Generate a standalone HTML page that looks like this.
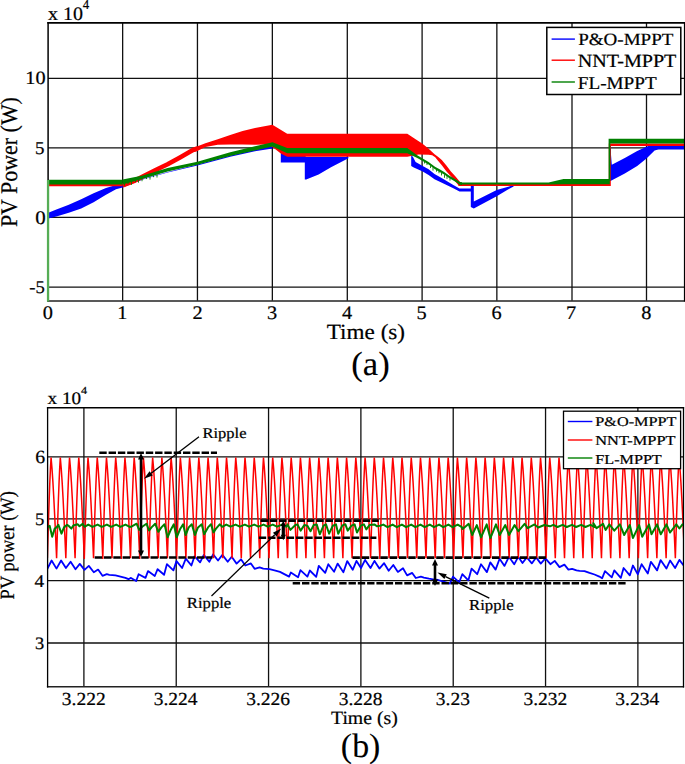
<!DOCTYPE html>
<html><head><meta charset="utf-8"><style>
html,body{margin:0;padding:0;background:#fff;}
body{width:685px;height:764px;overflow:hidden;}
svg{display:block;}
</style></head><body>
<svg width="685" height="764" viewBox="0 0 685 764">
<rect x="48.1" y="22.6" width="636.2" height="278.2" fill="#fff"/>
<line x1="122.65" y1="22.6" x2="122.65" y2="300.8" stroke="#111" stroke-width="1.3" />
<line x1="197.45" y1="22.6" x2="197.45" y2="300.8" stroke="#111" stroke-width="1.3" />
<line x1="272.35" y1="22.6" x2="272.35" y2="300.8" stroke="#111" stroke-width="1.3" />
<line x1="347.3" y1="22.6" x2="347.3" y2="300.8" stroke="#111" stroke-width="1.3" />
<line x1="422.1" y1="22.6" x2="422.1" y2="300.8" stroke="#111" stroke-width="1.3" />
<line x1="496.85" y1="22.6" x2="496.85" y2="300.8" stroke="#111" stroke-width="1.3" />
<line x1="572" y1="22.6" x2="572" y2="300.8" stroke="#111" stroke-width="1.3" />
<line x1="646.5" y1="22.6" x2="646.5" y2="300.8" stroke="#111" stroke-width="1.3" />
<line x1="48.1" y1="78.3" x2="684.3" y2="78.3" stroke="#111" stroke-width="1.3" />
<line x1="48.1" y1="147.8" x2="684.3" y2="147.8" stroke="#111" stroke-width="1.3" />
<line x1="48.1" y1="217.3" x2="684.3" y2="217.3" stroke="#111" stroke-width="1.3" />
<line x1="48.1" y1="287.05" x2="684.3" y2="287.05" stroke="#111" stroke-width="1.3" />
<svg x="48.1" y="22.6" width="636.2" height="278.2" viewBox="48.1 22.6 636.2 278.2" overflow="hidden">
<polygon points="48.3,212.8 56.4,209.5 68.8,204.7 81.2,199.2 93.6,193.3 106,188 116,184.9 122.6,184.5 122.6,187.5 116,189.2 106,194.8 93.6,202.3 81.2,208.5 68.8,212.8 56.4,216.5 48.3,218.6" fill="#0000ff" />
<polygon points="122.6,184.5 142.8,179 167.6,172 197.4,164.5 230.2,155.5 255,149.8 272.5,146 272.5,148.6 255,151.3 230.2,156.8 197.4,165.6 167.6,172.4 142.8,179.6 122.6,187.5" fill="#0000ff" />
<polygon points="280.8,153 305.5,153 305.5,156.5 306.2,157 348.4,157 348.4,158.3 331,167.2 318.6,174.6 306.2,179.6 304.8,179.6 304.8,162.4 280.8,162.6" fill="#0000ff" />
<polygon points="411.2,155 413,157 415.6,162.1 422.7,165.9 428.6,169.2 434.5,174 440.3,177.2 445,179.9 453.3,185.1 459.5,188.4 471.5,188.4 471.5,191.6 459.5,191.6 453.3,188.3 445,184.3 440.3,182 434.5,179.3 428.6,175 422.7,171.5 413.8,167.6 411.2,166" fill="#0000ff" />
<polygon points="470.8,186 473.8,186 473.8,201.5 496.7,189.9 513.6,185.2 513.6,186.5 508.4,189.3 496.7,196.3 473.8,208.5 470.8,207" fill="#0000ff" />
<polygon points="609.3,145 611,145 611,154.8 611.8,164.7 624.8,157.9 637.2,151.1 646.5,146.8 648.4,145.9 684.3,145.9 684.3,149.6 658.3,149.6 654.6,150.5 646.5,158.5 637.2,166 624.8,173.4 610.5,180.9 609.3,180.9" fill="#0000ff" />
<polygon points="48.3,183.8 122.6,183.8 122.6,186.2 48.3,186.2" fill="#ff0000" />
<polyline points="122.7,185.3 135,180.5 142.8,176.5 155.2,170.2 167.6,164.2 180,157.4 192.5,150.2 197.4,148.5" fill="none" stroke="#ff0000" stroke-width="4.6" stroke-linejoin="round" />
<polygon points="193,147.9 205.4,143.3 217.8,139.2 230.2,134.9 242.6,131.1 255,128 272.4,124.7 287.2,133.8 407.3,133.8 416,139.4 422.2,143.6 428.4,148.6 434.6,154.2 438.3,157.1 441.8,160 446.4,165.5 450.9,171.5 455.5,176.5 460.1,182 461.4,184.3 459,186 457.6,184.3 455.7,182 451.1,176.5 446.5,171.5 442,165.5 437.4,160 435.2,157.2 432.2,155.3 428.6,154.7 418.5,154.6 407.3,156.7 287.2,156.7 280.8,153.5 272.5,147 265,144.5 255,144.8 242.6,144.4 230.2,144.4 217.8,144.8 205.4,147 197.3,151 193,152.2" fill="#ff0000" />
<polygon points="458.6,183.4 609.8,183.4 609.8,186 458.6,186" fill="#ff0000" />
<polygon points="608.8,143.4 684.3,143.4 684.3,146 610.8,146 610.8,186 608.8,186" fill="#ff0000" />
<polygon points="48.3,179.7 122.6,179.7 122.6,184.6 48.3,184.6" fill="#008000" />
<polygon points="122.6,179.6 142.8,175.4 167.6,167.9 197.4,161.7 230.2,152.2 255,146.3 272.5,142.3 287.2,148 407.3,148 416.8,155.05 422.7,158.4 428.6,161.95 435,166.7 439.6,169.3 444.2,172 448.7,175.2 453.3,178 457.9,180.7 459.7,181.9 462,182.3 462,184.9 459.7,184.5 457.9,183.3 453.3,180.6 448.7,177.8 444.2,174.6 439.6,171.9 435,169.3 428.6,164.55 422.7,161 416.8,157.65 407.3,153.2 287.2,153.2 272.5,146.6 255,150.4 230.2,156 197.4,164.8 167.6,171.6 142.8,178.7 122.6,184.4" fill="#008000" />
<line x1="124.5" y1="182.11" x2="124.5" y2="185.64" stroke="#008000" stroke-width="0.9" />
<line x1="128" y1="181.2" x2="128" y2="184.18" stroke="#008000" stroke-width="0.9" />
<line x1="131.5" y1="180.29" x2="131.5" y2="184.87" stroke="#008000" stroke-width="0.9" />
<line x1="135.5" y1="179.25" x2="135.5" y2="181.98" stroke="#008000" stroke-width="0.9" />
<line x1="138.5" y1="178.47" x2="138.5" y2="182.68" stroke="#008000" stroke-width="0.9" />
<line x1="142" y1="177.56" x2="142" y2="181.23" stroke="#008000" stroke-width="0.9" />
<line x1="146.5" y1="176.39" x2="146.5" y2="179.07" stroke="#008000" stroke-width="0.9" />
<line x1="150" y1="175.48" x2="150" y2="179.6" stroke="#008000" stroke-width="0.9" />
<line x1="153.5" y1="174.57" x2="153.5" y2="177.19" stroke="#008000" stroke-width="0.9" />
<line x1="157" y1="173.66" x2="157" y2="177.54" stroke="#008000" stroke-width="0.9" />
<line x1="424.5" y1="161.58" x2="424.5" y2="163.51" stroke="#008000" stroke-width="0.9" />
<line x1="427" y1="163.09" x2="427" y2="165.05" stroke="#008000" stroke-width="0.9" />
<line x1="430.5" y1="165.46" x2="430.5" y2="168.02" stroke="#008000" stroke-width="0.9" />
<line x1="433" y1="167.32" x2="433" y2="170.6" stroke="#008000" stroke-width="0.9" />
<line x1="436.5" y1="169.65" x2="436.5" y2="171.67" stroke="#008000" stroke-width="0.9" />
<line x1="439" y1="171.06" x2="439" y2="173.26" stroke="#008000" stroke-width="0.9" />
<line x1="441.5" y1="172.52" x2="441.5" y2="175.44" stroke="#008000" stroke-width="0.9" />
<line x1="444.5" y1="174.31" x2="444.5" y2="177.82" stroke="#008000" stroke-width="0.9" />
<line x1="447" y1="176.09" x2="447" y2="178.93" stroke="#008000" stroke-width="0.9" />
<line x1="450" y1="178.09" x2="450" y2="180.61" stroke="#008000" stroke-width="0.9" />
<polygon points="458.6,182.5 548.6,182.5 563.5,178.9 609.8,178.9 609.8,184.3 563.5,184.3 548.6,184.4 458.6,184.4" fill="#008000" />
<polygon points="608.6,138.8 684.3,138.8 684.3,143.5 610.3,143.5 610.3,181 608.6,181" fill="#008000" />
</svg>
<line x1="47.3" y1="22.9" x2="685" y2="22.9" stroke="#000" stroke-width="1.8" />
<line x1="47.3" y1="300.9" x2="685" y2="300.9" stroke="#222" stroke-width="1.5" />
<line x1="48.1" y1="22" x2="48.1" y2="301.6" stroke="#000" stroke-width="1.5" />
<line x1="684.5" y1="22" x2="684.5" y2="301.6" stroke="#000" stroke-width="1.2" />
<line x1="48.05" y1="180" x2="48.05" y2="301.6" stroke="#55ad55" stroke-width="2.3" />
<rect x="546.8" y="27.4" width="134" height="67.1" fill="#fff" stroke="#000" stroke-width="1.5"/>
<line x1="551.6" y1="39.1" x2="574.9" y2="39.1" stroke="#0000ff" stroke-width="1.4" />
<line x1="551.6" y1="60.2" x2="574.9" y2="60.2" stroke="#ff0000" stroke-width="1.4" />
<line x1="551.6" y1="82" x2="574.9" y2="82" stroke="#008000" stroke-width="1.4" />
<rect x="47.6" y="407.6" width="635.8" height="279.3" fill="#fff"/>
<line x1="83.9" y1="407.6" x2="83.9" y2="686.9" stroke="#111" stroke-width="1.3" />
<line x1="176.23" y1="407.6" x2="176.23" y2="686.9" stroke="#111" stroke-width="1.3" />
<line x1="268.56" y1="407.6" x2="268.56" y2="686.9" stroke="#111" stroke-width="1.3" />
<line x1="360.89" y1="407.6" x2="360.89" y2="686.9" stroke="#111" stroke-width="1.3" />
<line x1="453.22" y1="407.6" x2="453.22" y2="686.9" stroke="#111" stroke-width="1.3" />
<line x1="545.55" y1="407.6" x2="545.55" y2="686.9" stroke="#111" stroke-width="1.3" />
<line x1="637.88" y1="407.6" x2="637.88" y2="686.9" stroke="#111" stroke-width="1.3" />
<line x1="47.6" y1="456.85" x2="683.4" y2="456.85" stroke="#111" stroke-width="1.3" />
<line x1="47.6" y1="518.95" x2="683.4" y2="518.95" stroke="#111" stroke-width="1.3" />
<line x1="47.6" y1="580.7" x2="683.4" y2="580.7" stroke="#111" stroke-width="1.3" />
<line x1="47.6" y1="643" x2="683.4" y2="643" stroke="#111" stroke-width="1.3" />
<svg x="47.6" y="407.6" width="635.8" height="279.3" viewBox="47.6 407.6 635.8 279.3" overflow="hidden">
<polyline points="44,566 47.5,568.6 51.6,560.5 56.5,568.6 61.1,560.5 65.9,568 70.6,561.8 75.5,569.2 79.8,563.9 84.5,569.9 88.8,565.9 93.8,572.3 98.1,569.6 102.5,575.8 106.8,574.2 109.3,574.8 115.5,575.4 120.5,576.7 125.4,577.9 128.5,579.2 131,577.9 136.2,581 138.6,574.2 145.5,577.9 148,571.1 154.8,576 157.6,569.2 164.1,574.8 166.9,564.2 173.4,570.4 176.5,561.1 182.1,568 185.8,558.6 191.4,565.5 194.5,556.2 200.1,562.4 203.8,554.9 209.3,561.8 213.1,554.3 218,560.5 222.4,554.9 227.7,561.8 231.7,556.8 236.6,563.6 241,559.3 245.3,565.5 250.9,563.4 254.6,568.8 259.6,567.3 263.3,568.6 269.5,569.2 274.5,570.4 280,571.9 289.1,576.6 290.8,572.5 298.1,577.2 300.4,570.2 307.4,576.6 309.8,570.5 316.2,576.9 318.8,565.8 325.2,572.9 328.3,564.2 334.1,571.7 337.6,563.6 343.4,572.3 347.2,561.1 352.7,569.8 356.5,560.9 361,568 365.1,559.9 370.5,568 374.5,560.9 379.4,568.6 384.1,563.2 388.7,570.8 393.3,565 397.9,571.9 403,568.3 407.1,575.4 412.2,572.9 415.8,578 420.9,576.7 423.9,577.7 429,578.7 433.1,579.3 438.2,580 443.4,581.6 449.9,583.6 453,576.7 459.2,582.3 462.3,574.2 468.3,580.4 471.6,568.6 477.2,574.2 481,564.3 486.9,572.1 490.3,562.4 495.6,569.6 499.6,558.7 504.5,565.9 508.9,556.8 514.2,564.3 518.2,556.8 522.5,563 526.8,557.4 531.8,563.4 536.1,557.4 540.8,563.6 545.4,558.4 550.4,564.2 554.7,560.9 559.5,567.1 564.4,564.6 568.4,569.6 572.1,568.8 576.5,570.4 579.6,570.8 584.5,571.1 589.5,572.9 594.5,574.5 599.4,576.6 602.1,578.3 605,571.1 611.8,577.3 614.3,570.4 620.8,577.9 623.6,568 629.8,575.4 632.9,565.5 637.8,574.2 641.6,564.2 647.8,573.5 650.9,561.8 657.1,570.4 660.6,560.1 666.4,568.6 670.1,560.5 675.1,568 679.4,559.9 684,566 688,560" fill="none" stroke="#0000ff" stroke-width="1.8" stroke-linejoin="round" />
<polyline points="47.37,558.2 47.98,537.26 48.6,517.12 49.22,498.52 49.83,482.11 50.45,468.36 51.07,457.6 51.99,468.36 52.91,482.11 53.83,498.52 54.76,517.12 55.68,537.26 56.6,558.2 56.6,558.2 57.22,537.26 57.83,517.12 58.45,498.52 59.07,482.11 59.68,468.36 60.3,457.6 61.22,468.36 62.15,482.11 63.07,498.52 63.99,517.12 64.91,537.26 65.84,558.2 65.84,558.2 66.45,537.26 67.07,517.12 67.69,498.52 68.3,482.11 68.92,468.36 69.54,457.6 70.46,468.36 71.38,482.11 72.3,498.52 73.23,517.12 74.15,537.26 75.07,558.2 75.07,558.2 75.69,537.26 76.3,517.12 76.92,498.52 77.54,482.11 78.15,468.36 78.77,457.6 79.69,468.36 80.61,482.11 81.54,498.52 82.46,517.12 83.38,537.26 84.3,558.2 84.31,558.2 84.92,537.26 85.54,517.12 86.16,498.52 86.77,482.11 87.39,468.36 88.01,457.6 88.93,468.36 89.85,482.11 90.77,498.52 91.7,517.12 92.62,537.26 93.54,558.2 93.54,558.2 94.16,537.26 94.77,517.12 95.39,498.52 96.01,482.11 96.62,468.36 97.24,457.6 98.16,468.36 99.08,482.11 100.01,498.52 100.93,517.12 101.85,537.26 102.77,558.2 102.78,558.2 103.39,537.26 104.01,517.12 104.62,498.52 105.24,482.11 105.86,468.36 106.48,457.6 107.4,468.36 108.32,482.11 109.24,498.52 110.17,517.12 111.09,537.26 112.01,558.2 112.01,558.2 112.63,537.26 113.24,517.12 113.86,498.52 114.48,482.11 115.09,468.36 115.71,457.6 116.63,468.36 117.55,482.11 118.48,498.52 119.4,517.12 120.32,537.26 121.24,558.2 121.25,558.2 121.86,537.26 122.48,517.12 123.09,498.52 123.71,482.11 124.33,468.36 124.95,457.6 125.87,468.36 126.79,482.11 127.71,498.52 128.64,517.12 129.56,537.26 130.48,558.2 130.48,558.2 131.1,537.26 131.71,517.12 132.33,498.52 132.95,482.11 133.56,468.36 134.18,457.6 135.1,468.36 136.02,482.11 136.95,498.52 137.87,517.12 138.79,537.26 139.71,558.2 139.72,558.2 140.33,537.26 140.95,517.12 141.56,498.52 142.18,482.11 142.8,468.36 143.41,457.6 144.34,468.36 145.26,482.11 146.18,498.52 147.1,517.12 148.03,537.26 148.95,558.2 148.95,558.2 149.57,537.26 150.18,517.12 150.8,498.52 151.42,482.11 152.03,468.36 152.65,457.6 153.57,468.36 154.49,482.11 155.42,498.52 156.34,517.12 157.26,537.26 158.19,558.2 158.19,558.2 158.8,537.26 159.42,517.12 160.03,498.52 160.65,482.11 161.27,468.36 161.88,457.6 162.81,468.36 163.73,482.11 164.65,498.52 165.58,517.12 166.5,537.26 167.42,558.2 167.42,558.2 168.04,537.26 168.65,517.12 169.27,498.52 169.89,482.11 170.5,468.36 171.12,457.6 172.04,468.36 172.96,482.11 173.89,498.52 174.81,517.12 175.73,537.26 176.65,558.2 176.66,558.2 177.27,537.26 177.89,517.12 178.5,498.52 179.12,482.11 179.74,468.36 180.35,457.6 181.28,468.36 182.2,482.11 183.12,498.52 184.04,517.12 184.97,537.26 185.89,558.2 185.89,558.2 186.51,537.26 187.12,517.12 187.74,498.52 188.36,482.11 188.97,468.36 189.59,457.6 190.51,468.36 191.43,482.11 192.36,498.52 193.28,517.12 194.2,537.26 195.12,558.2 195.12,558.2 195.74,537.26 196.36,517.12 196.97,498.52 197.59,482.11 198.21,468.36 198.82,457.6 199.75,468.36 200.67,482.11 201.59,498.52 202.51,517.12 203.44,537.26 204.36,558.2 204.36,558.2 204.98,537.26 205.59,517.12 206.21,498.52 206.83,482.11 207.44,468.36 208.06,457.6 208.98,468.36 209.9,482.11 210.83,498.52 211.75,517.12 212.67,537.26 213.59,558.2 213.59,558.2 214.21,537.26 214.83,517.12 215.44,498.52 216.06,482.11 216.68,468.36 217.29,457.6 218.22,468.36 219.14,482.11 220.06,498.52 220.98,517.12 221.91,537.26 222.83,558.2 222.83,558.2 223.45,537.26 224.06,517.12 224.68,498.52 225.3,482.11 225.91,468.36 226.53,457.6 227.45,468.36 228.37,482.11 229.3,498.52 230.22,517.12 231.14,537.26 232.06,558.2 232.06,558.2 232.68,537.26 233.3,517.12 233.91,498.52 234.53,482.11 235.15,468.36 235.76,457.6 236.69,468.36 237.61,482.11 238.53,498.52 239.45,517.12 240.38,537.26 241.3,558.2 241.3,558.2 241.92,537.26 242.53,517.12 243.15,498.52 243.77,482.11 244.38,468.36 245,457.6 245.92,468.36 246.84,482.11 247.77,498.52 248.69,517.12 249.61,537.26 250.53,558.2 250.53,558.2 251.15,537.26 251.77,517.12 252.38,498.52 253,482.11 253.62,468.36 254.23,457.6 255.16,468.36 256.08,482.11 257,498.52 257.92,517.12 258.85,537.26 259.77,558.2 259.77,558.2 260.39,537.26 261,517.12 261.62,498.52 262.24,482.11 262.85,468.36 263.47,457.6 264.39,468.36 265.31,482.11 266.24,498.52 267.16,517.12 268.08,537.26 269,558.2 269,558.2 269.62,537.26 270.24,517.12 270.86,498.52 271.47,482.11 272.09,468.36 272.7,457.6 273.63,468.36 274.55,482.11 275.47,498.52 276.39,517.12 277.32,537.26 278.24,558.2 278.24,558.2 278.86,537.26 279.47,517.12 280.09,498.52 280.71,482.11 281.32,468.36 281.94,457.6 282.86,468.36 283.79,482.11 284.71,498.52 285.63,517.12 286.55,537.26 287.48,558.2 287.48,558.2 288.09,537.26 288.71,517.12 289.33,498.52 289.94,482.11 290.56,468.36 291.18,457.6 292.1,468.36 293.02,482.11 293.94,498.52 294.87,517.12 295.79,537.26 296.71,558.2 296.71,558.2 297.33,537.26 297.94,517.12 298.56,498.52 299.18,482.11 299.79,468.36 300.41,457.6 301.33,468.36 302.25,482.11 303.18,498.52 304.1,517.12 305.02,537.26 305.94,558.2 305.94,558.2 306.56,537.26 307.18,517.12 307.79,498.52 308.41,482.11 309.03,468.36 309.64,457.6 310.57,468.36 311.49,482.11 312.41,498.52 313.33,517.12 314.26,537.26 315.18,558.2 315.18,558.2 315.8,537.26 316.41,517.12 317.03,498.52 317.65,482.11 318.26,468.36 318.88,457.6 319.8,468.36 320.73,482.11 321.65,498.52 322.57,517.12 323.49,537.26 324.42,558.2 324.42,558.2 325.03,537.26 325.65,517.12 326.26,498.52 326.88,482.11 327.5,468.36 328.12,457.6 329.04,468.36 329.96,482.11 330.88,498.52 331.81,517.12 332.73,537.26 333.65,558.2 333.65,558.2 334.27,537.26 334.88,517.12 335.5,498.52 336.12,482.11 336.73,468.36 337.35,457.6 338.27,468.36 339.19,482.11 340.12,498.52 341.04,517.12 341.96,537.26 342.88,558.2 342.88,558.2 343.5,537.26 344.12,517.12 344.74,498.52 345.35,482.11 345.97,468.36 346.58,457.6 347.51,468.36 348.43,482.11 349.35,498.52 350.27,517.12 351.2,537.26 352.12,558.2 352.12,558.2 352.74,537.26 353.35,517.12 353.97,498.52 354.59,482.11 355.2,468.36 355.82,457.6 356.74,468.36 357.67,482.11 358.59,498.52 359.51,517.12 360.43,537.26 361.36,558.2 361.36,558.2 361.97,537.26 362.59,517.12 363.21,498.52 363.82,482.11 364.44,468.36 365.06,457.6 365.98,468.36 366.9,482.11 367.82,498.52 368.75,517.12 369.67,537.26 370.59,558.2 370.59,558.2 371.21,537.26 371.82,517.12 372.44,498.52 373.06,482.11 373.67,468.36 374.29,457.6 375.21,468.36 376.14,482.11 377.06,498.52 377.98,517.12 378.9,537.26 379.83,558.2 379.82,558.2 380.44,537.26 381.06,517.12 381.67,498.52 382.29,482.11 382.91,468.36 383.52,457.6 384.45,468.36 385.37,482.11 386.29,498.52 387.21,517.12 388.14,537.26 389.06,558.2 389.06,558.2 389.68,537.26 390.29,517.12 390.91,498.52 391.53,482.11 392.14,468.36 392.76,457.6 393.68,468.36 394.61,482.11 395.53,498.52 396.45,517.12 397.37,537.26 398.3,558.2 398.3,558.2 398.91,537.26 399.53,517.12 400.14,498.52 400.76,482.11 401.38,468.36 402,457.6 402.92,468.36 403.84,482.11 404.76,498.52 405.69,517.12 406.61,537.26 407.53,558.2 407.53,558.2 408.15,537.26 408.76,517.12 409.38,498.52 410,482.11 410.61,468.36 411.23,457.6 412.15,468.36 413.07,482.11 414,498.52 414.92,517.12 415.84,537.26 416.76,558.2 416.76,558.2 417.38,537.26 418,517.12 418.62,498.52 419.23,482.11 419.85,468.36 420.46,457.6 421.39,468.36 422.31,482.11 423.23,498.52 424.15,517.12 425.08,537.26 426,558.2 426,558.2 426.62,537.26 427.23,517.12 427.85,498.52 428.47,482.11 429.08,468.36 429.7,457.6 430.62,468.36 431.55,482.11 432.47,498.52 433.39,517.12 434.31,537.26 435.24,558.2 435.24,558.2 435.85,537.26 436.47,517.12 437.09,498.52 437.7,482.11 438.32,468.36 438.94,457.6 439.86,468.36 440.78,482.11 441.7,498.52 442.62,517.12 443.55,537.26 444.47,558.2 444.47,558.2 445.09,537.26 445.7,517.12 446.32,498.52 446.94,482.11 447.55,468.36 448.17,457.6 449.09,468.36 450.02,482.11 450.94,498.52 451.86,517.12 452.78,537.26 453.71,558.2 453.7,558.2 454.32,537.26 454.94,517.12 455.55,498.52 456.17,482.11 456.79,468.36 457.4,457.6 458.33,468.36 459.25,482.11 460.17,498.52 461.09,517.12 462.02,537.26 462.94,558.2 462.94,558.2 463.56,537.26 464.17,517.12 464.79,498.52 465.41,482.11 466.02,468.36 466.64,457.6 467.56,468.36 468.49,482.11 469.41,498.52 470.33,517.12 471.25,537.26 472.18,558.2 472.18,558.2 472.79,537.26 473.41,517.12 474.02,498.52 474.64,482.11 475.26,468.36 475.88,457.6 476.8,468.36 477.72,482.11 478.64,498.52 479.56,517.12 480.49,537.26 481.41,558.2 481.41,558.2 482.03,537.26 482.64,517.12 483.26,498.52 483.88,482.11 484.49,468.36 485.11,457.6 486.03,468.36 486.95,482.11 487.88,498.52 488.8,517.12 489.72,537.26 490.64,558.2 490.64,558.2 491.26,537.26 491.88,517.12 492.5,498.52 493.11,482.11 493.73,468.36 494.34,457.6 495.27,468.36 496.19,482.11 497.11,498.52 498.03,517.12 498.96,537.26 499.88,558.2 499.88,558.2 500.5,537.26 501.11,517.12 501.73,498.52 502.35,482.11 502.96,468.36 503.58,457.6 504.5,468.36 505.43,482.11 506.35,498.52 507.27,517.12 508.19,537.26 509.12,558.2 509.12,558.2 509.73,537.26 510.35,517.12 510.97,498.52 511.58,482.11 512.2,468.36 512.82,457.6 513.74,468.36 514.66,482.11 515.58,498.52 516.5,517.12 517.43,537.26 518.35,558.2 518.35,558.2 518.97,537.26 519.58,517.12 520.2,498.52 520.82,482.11 521.43,468.36 522.05,457.6 522.97,468.36 523.9,482.11 524.82,498.52 525.74,517.12 526.66,537.26 527.59,558.2 527.58,558.2 528.2,537.26 528.82,517.12 529.43,498.52 530.05,482.11 530.67,468.36 531.28,457.6 532.21,468.36 533.13,482.11 534.05,498.52 534.97,517.12 535.9,537.26 536.82,558.2 536.82,558.2 537.44,537.26 538.05,517.12 538.67,498.52 539.29,482.11 539.9,468.36 540.52,457.6 541.44,468.36 542.37,482.11 543.29,498.52 544.21,517.12 545.13,537.26 546.05,558.2 546.05,558.2 546.67,537.26 547.29,517.12 547.9,498.52 548.52,482.11 549.14,468.36 549.75,457.6 550.68,468.36 551.6,482.11 552.52,498.52 553.44,517.12 554.37,537.26 555.29,558.2 555.29,558.2 555.91,537.26 556.52,517.12 557.14,498.52 557.76,482.11 558.37,468.36 558.99,457.6 559.91,468.36 560.84,482.11 561.76,498.52 562.68,517.12 563.6,537.26 564.52,558.2 564.52,558.2 565.14,537.26 565.76,517.12 566.38,498.52 566.99,482.11 567.61,468.36 568.23,457.6 569.15,468.36 570.07,482.11 570.99,498.52 571.91,517.12 572.84,537.26 573.76,558.2 573.76,558.2 574.38,537.26 574.99,517.12 575.61,498.52 576.23,482.11 576.84,468.36 577.46,457.6 578.38,468.36 579.31,482.11 580.23,498.52 581.15,517.12 582.07,537.26 583,558.2 583,558.2 583.61,537.26 584.23,517.12 584.85,498.52 585.46,482.11 586.08,468.36 586.7,457.6 587.62,468.36 588.54,482.11 589.46,498.52 590.38,517.12 591.31,537.26 592.23,558.2 592.23,558.2 592.85,537.26 593.46,517.12 594.08,498.52 594.7,482.11 595.31,468.36 595.93,457.6 596.85,468.36 597.78,482.11 598.7,498.52 599.62,517.12 600.54,537.26 601.47,558.2 601.47,558.2 602.08,537.26 602.7,517.12 603.32,498.52 603.93,482.11 604.55,468.36 605.17,457.6 606.09,468.36 607.01,482.11 607.93,498.52 608.86,517.12 609.78,537.26 610.7,558.2 610.7,558.2 611.32,537.26 611.93,517.12 612.55,498.52 613.17,482.11 613.78,468.36 614.4,457.6 615.32,468.36 616.25,482.11 617.17,498.52 618.09,517.12 619.01,537.26 619.93,558.2 619.93,558.2 620.55,537.26 621.17,517.12 621.78,498.52 622.4,482.11 623.02,468.36 623.63,457.6 624.56,468.36 625.48,482.11 626.4,498.52 627.32,517.12 628.25,537.26 629.17,558.2 629.17,558.2 629.79,537.26 630.4,517.12 631.02,498.52 631.64,482.11 632.25,468.36 632.87,457.6 633.79,468.36 634.72,482.11 635.64,498.52 636.56,517.12 637.48,537.26 638.4,558.2 638.4,558.2 639.02,537.26 639.64,517.12 640.25,498.52 640.87,482.11 641.49,468.36 642.11,457.6 643.03,468.36 643.95,482.11 644.87,498.52 645.79,517.12 646.72,537.26 647.64,558.2 647.64,558.2 648.26,537.26 648.87,517.12 649.49,498.52 650.11,482.11 650.72,468.36 651.34,457.6 652.26,468.36 653.19,482.11 654.11,498.52 655.03,517.12 655.95,537.26 656.88,558.2 656.88,558.2 657.49,537.26 658.11,517.12 658.73,498.52 659.34,482.11 659.96,468.36 660.58,457.6 661.5,468.36 662.42,482.11 663.34,498.52 664.26,517.12 665.19,537.26 666.11,558.2 666.11,558.2 666.73,537.26 667.34,517.12 667.96,498.52 668.58,482.11 669.19,468.36 669.81,457.6 670.73,468.36 671.66,482.11 672.58,498.52 673.5,517.12 674.42,537.26 675.35,558.2 675.35,558.2 675.96,537.26 676.58,517.12 677.2,498.52 677.81,482.11 678.43,468.36 679.05,457.6 679.97,468.36 680.89,482.11 681.81,498.52 682.74,517.12 683.66,537.26 684.58,558.2 684.58,558.2 685.2,537.26 685.81,517.12 686.43,498.52 687.05,482.11 687.66,468.36 688.28,457.6 689.2,468.36 690.13,482.11 691.05,498.52 691.97,517.12 692.89,537.26 693.82,558.2 693.81,558.2 694.43,537.26 695.05,517.12 695.66,498.52 696.28,482.11 696.9,468.36 697.51,457.6 698.44,468.36 699.36,482.11 700.28,498.52 701.2,517.12 702.13,537.26 703.05,558.2" fill="none" stroke="#ff0000" stroke-width="1.5" stroke-linejoin="miter" stroke-miterlimit="3"/>
<polyline points="44,526 47.9,526.8 49.7,525.9 52.2,536.7 54.7,528.6 56.5,527.4 58.4,524.9 61.5,533.6 64,527.4 67.1,524.9 69,526.2 71.4,528.6 73.3,525.5 77.6,524.3 79.5,526.2 82.6,523.9 84.5,526.8 88.3,524.6 92.5,526.9 97.6,524.6 101.8,526.9 106.9,524.6 111.1,526.9 116.2,524.6 120.4,526.9 125.5,524.6 129.7,526.9 131,526.8 136.6,523.7 139.1,529.9 142.2,526.8 146.5,523.7 149,530.5 151.5,527.4 155.2,523.7 158.3,531.8 161.4,527.4 164.5,524.3 167.6,537.3 170.7,529.9 173.8,524.3 176.7,537.3 180,529.3 183.1,524.3 185.6,535 188.7,527.4 191.8,524.3 194.9,535 198,527.4 201.7,524.3 204.2,534.2 208,527.4 211,524.3 213.5,532.4 216,528.6 219.7,524.3 222.2,526.8 226.3,524.6 230.5,526.7 235.6,524.6 239.8,526.7 244.9,524.6 249.1,526.7 254.2,524.6 258.4,526.7 263.5,524.6 267.7,526.7 272.8,524.6 277,526.7 282.1,524.6 286.3,526.7 287.5,524.4 290.4,529.9 295.4,525 297.5,524.4 300.6,530.6 304.3,525.1 307.4,525.7 310.5,531.2 313.6,525.1 316.7,524.4 319.8,534.3 323.5,525.7 326,524.4 329.1,533.7 332.8,525.7 336,524.4 338.2,533.7 342.2,525.7 345.3,524.2 347.7,530.6 351.5,525.7 354.6,524.4 357,532.5 360.8,525.7 363.9,524.4 366.3,529.4 369.5,525.1 374.4,524.4 376.9,526.3 380,525.7 383.3,524.6 387.5,527.2 392.6,524.6 396.8,527.2 401.9,524.6 406.1,527.2 411.2,524.6 415.4,527.2 420.5,524.6 424.7,527.2 429.8,524.6 434,527.2 439.1,524.6 443.3,527.2 448.4,524.6 452.6,527.2 457.7,524.6 461.9,527.2 462.5,529 465,526.9 468.7,523.8 472.2,535 476.8,525.1 481.1,537.4 486.7,524.4 490.4,538.1 496,524.4 499.7,535 505.3,525.1 509,535 514.6,525.1 518.4,531.2 524.6,523.8 527.7,528.1 534.5,524.4 538.2,527.5 544.4,525 550,526.3 553.3,524.8 557.5,527 562.6,524.8 566.8,527 571.9,524.8 576.1,527 581.2,524.8 585.4,527 590.5,524.8 594.7,527 593.4,523.2 596.5,528.1 603.1,523.8 605.6,530 609.3,524.4 614.3,530.6 619.9,524.4 624.2,535 629.8,525.1 632.9,538.1 639.1,525.1 642.2,536.8 649,524.4 651.5,534.3 657.1,524.4 660.8,534.3 666.4,524.4 670.1,532.5 676.3,524.4 679.4,528.5 682.5,524.4 688,527" fill="none" stroke="#008000" stroke-width="2" stroke-linejoin="round" />
</svg>
<line x1="99.3" y1="452.8" x2="217" y2="452.8" stroke="#000" stroke-width="2.6" stroke-dasharray="7.4 1.9"/>
<line x1="94.7" y1="557.5" x2="212.4" y2="557.5" stroke="#000" stroke-width="2.6" stroke-dasharray="7.4 1.9"/>
<line x1="260.5" y1="520.6" x2="378.7" y2="520.6" stroke="#000" stroke-width="2.6" stroke-dasharray="7.4 1.9"/>
<line x1="258.8" y1="537.8" x2="376.4" y2="537.8" stroke="#000" stroke-width="2.6" stroke-dasharray="7.4 1.9"/>
<line x1="352.5" y1="557.6" x2="547" y2="557.6" stroke="#000" stroke-width="2.6" stroke-dasharray="7.4 1.9"/>
<line x1="292.7" y1="583.2" x2="625.7" y2="583.2" stroke="#000" stroke-width="2.6" stroke-dasharray="7.4 1.9"/>
<line x1="141" y1="457" x2="141" y2="553" stroke="#000" stroke-width="2.6" />
<polygon points="141,453 138,459.5 144,459.5" fill="#000" />
<polygon points="141,557 138,550.5 144,550.5" fill="#000" />
<line x1="283.3" y1="524.6" x2="283.3" y2="536.3" stroke="#000" stroke-width="3.2" />
<polygon points="283.3,520.6 280.7,526.1 285.9,526.1" fill="#000" />
<polygon points="283.3,540.3 280.7,534.8 285.9,534.8" fill="#000" />
<line x1="435" y1="563" x2="435" y2="582" stroke="#000" stroke-width="2.6" />
<polygon points="435,559 432,565.5 438,565.5" fill="#000" />
<polygon points="435,586 432,579.5 438,579.5" fill="#000" />
<line x1="199" y1="436.8" x2="151.15" y2="473.34" stroke="#000" stroke-width="1.3" />
<polygon points="144,478.8 149.57,471.27 152.73,475.4" fill="#000" />
<line x1="211.5" y1="596" x2="274.74" y2="534.67" stroke="#000" stroke-width="1.3" />
<polygon points="281.2,528.4 276.55,536.53 272.93,532.8" fill="#000" />
<line x1="489.3" y1="598.2" x2="445.57" y2="576.59" stroke="#000" stroke-width="1.3" />
<polygon points="437.5,572.6 446.72,574.26 444.42,578.92" fill="#000" />
<line x1="46.9" y1="407.7" x2="684.1" y2="407.7" stroke="#000" stroke-width="1.4" />
<line x1="46.9" y1="686.8" x2="684.1" y2="686.8" stroke="#222" stroke-width="1.5" />
<line x1="47.6" y1="407" x2="47.6" y2="687.5" stroke="#000" stroke-width="1.3" />
<line x1="683.5" y1="407" x2="683.5" y2="687.5" stroke="#000" stroke-width="1.3" />
<rect x="563.5" y="411.2" width="117.1" height="57.5" fill="#fff" stroke="#000" stroke-width="1.3"/>
<line x1="567.8" y1="421.5" x2="592.4" y2="421.5" stroke="#0000ff" stroke-width="1.4" />
<line x1="567.8" y1="440" x2="592.4" y2="440" stroke="#ff0000" stroke-width="1.4" />
<line x1="567.8" y1="458" x2="592.4" y2="458" stroke="#008000" stroke-width="1.4" />
<g font-family="Liberation Serif" fill="#000" stroke="#000" stroke-width="0.22" text-rendering="geometricPrecision">
<text transform="translate(578.21,45.09) scale(1.1071,1)" font-size="17.19">P&amp;O-MPPT</text>
<text transform="translate(577.77,66.90) scale(1.0808,1)" font-size="18.59">NNT-MPPT</text>
<text transform="translate(577.80,89.40) scale(1.0588,1)" font-size="18.13">FL-MPPT</text>
<text transform="translate(42.81,318.82) scale(1.0600,1)" font-size="19.20">0</text>
<text transform="translate(117.36,318.82) scale(1.0600,1)" font-size="19.20">1</text>
<text transform="translate(192.54,318.82) scale(1.0600,1)" font-size="19.20">2</text>
<text transform="translate(267.08,318.82) scale(1.0600,1)" font-size="19.20">3</text>
<text transform="translate(341.95,318.70) scale(1.0600,1)" font-size="19.20">4</text>
<text transform="translate(416.62,318.70) scale(1.0600,1)" font-size="19.20">5</text>
<text transform="translate(491.48,318.82) scale(1.0600,1)" font-size="19.20">6</text>
<text transform="translate(566.03,318.70) scale(1.0600,1)" font-size="19.20">7</text>
<text transform="translate(641.21,318.82) scale(1.0600,1)" font-size="19.20">8</text>
<text transform="translate(25.33,84.46) scale(1.0698,1)" font-size="18.96">10</text>
<text transform="translate(35.03,153.87) scale(1.0476,1)" font-size="18.09">5</text>
<text transform="translate(35.21,223.56) scale(1.0873,1)" font-size="19.26">0</text>
<text transform="translate(29.30,292.78) scale(1.0390,1)" font-size="17.94">-5</text>
<text transform="translate(47.98,19.66) scale(1.0457,1)" font-size="19.11">x 10</text>
<text transform="translate(82.76,8.81) scale(0.9481,1)" font-size="13.50">4</text>
<text transform="translate(326.77,339.08) scale(1.0659,1)" font-size="21.74">Time (s)</text>
<text transform="translate(351.23,375.47) scale(1.0262,1)" font-size="33.77" stroke-width="0.1">(a)</text>
<text transform="translate(17.04,227.09) rotate(-90) scale(0.9209,1)" font-size="23.83">PV Power (W)</text>
<text transform="translate(595.29,426.23) scale(1.2182,1)" font-size="13.33">P&amp;O-MPPT</text>
<text transform="translate(595.29,445.40) scale(1.1922,1)" font-size="13.71">NNT-MPPT</text>
<text transform="translate(595.29,463.80) scale(1.1792,1)" font-size="13.71">FL-MPPT</text>
<text transform="translate(61.82,704.59) scale(1.0600,1)" font-size="18.40">3.222</text>
<text transform="translate(153.72,704.59) scale(1.0600,1)" font-size="18.40">3.224</text>
<text transform="translate(246.24,704.59) scale(1.0600,1)" font-size="18.40">3.226</text>
<text transform="translate(338.63,704.59) scale(1.0600,1)" font-size="18.40">3.228</text>
<text transform="translate(435.83,704.59) scale(1.0600,1)" font-size="18.40">3.23</text>
<text transform="translate(523.47,704.59) scale(1.0600,1)" font-size="18.40">3.232</text>
<text transform="translate(615.37,704.59) scale(1.0600,1)" font-size="18.40">3.234</text>
<text transform="translate(35.14,463.17) scale(1.0673,1)" font-size="18.52">6</text>
<text transform="translate(34.95,525.18) scale(1.0602,1)" font-size="17.64">5</text>
<text transform="translate(34.41,587.21) scale(1.0700,1)" font-size="18.00">4</text>
<text transform="translate(34.98,649.38) scale(1.0539,1)" font-size="17.48">3</text>
<text transform="translate(47.58,403.98) scale(1.0871,1)" font-size="17.63">x 10</text>
<text transform="translate(81.07,393.60) scale(1.1239,1)" font-size="10.82">4</text>
<text transform="translate(331.03,724.11) scale(1.0521,1)" font-size="18.76">Time (s)</text>
<text transform="translate(340.87,756.53) scale(0.9963,1)" font-size="33.99" stroke-width="0.1">(b)</text>
<text transform="translate(14.49,599.38) rotate(-90) scale(0.9096,1)" font-size="20.30">PV power (W)</text>
<text transform="translate(202.48,437.83) scale(1.1076,1)" font-size="14.90">Ripple</text>
<text transform="translate(186.78,608.04) scale(1.0883,1)" font-size="15.34">Ripple</text>
<text transform="translate(468.98,610.46) scale(1.1012,1)" font-size="15.23">Ripple</text>
</g>
</svg>
</body></html>
